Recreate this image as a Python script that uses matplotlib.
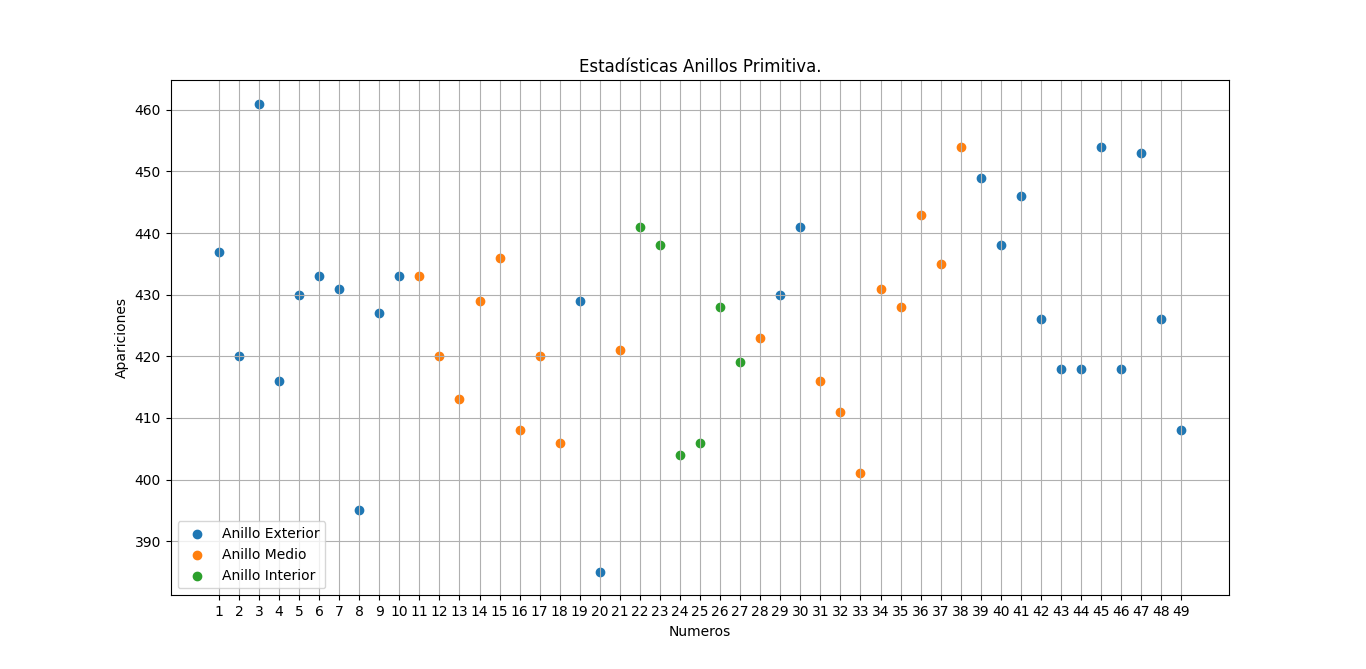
import matplotlib
matplotlib.use('Agg')
from matplotlib import pyplot as plt

# Numeros del 1 al 49 y sus apariciones
numeros = list(range(1, 50))
apariciones = [
    437, 420, 461, 416, 430, 433, 431, 395, 427, 433,
    433, 420, 413, 429, 436, 408, 420, 406, 429, 385,
    421, 441, 438, 404, 406, 428, 419, 423, 430, 441,
    416, 411, 401, 431, 428, 443, 435, 454, 449, 438,
    446, 426, 418, 418, 454, 418, 453, 426, 408,
]

# Anillos de la primitiva
anillo_exterior = [1, 2, 3, 4, 5, 6, 7, 8, 9, 10, 19, 20, 29, 30,
                   39, 40, 41, 42, 43, 44, 45, 46, 47, 48, 49]
anillo_medio = [11, 12, 13, 14, 15, 16, 17, 18, 21, 28,
                31, 32, 33, 34, 35, 36, 37, 38]
anillo_interior = [22, 23, 24, 25, 26, 27]

fig = plt.figure(figsize=(13.66, 6.69), dpi=100)
ax = fig.gca()

for grupo, etiqueta in ((anillo_exterior, 'Anillo Exterior'),
                        (anillo_medio, 'Anillo Medio'),
                        (anillo_interior, 'Anillo Interior')):
    ys = [apariciones[n - 1] for n in grupo]
    ax.scatter(grupo, ys, label=etiqueta)

ax.set_title('Estadísticas Anillos Primitiva.')
ax.set_xlabel('Numeros')
ax.set_ylabel('Apariciones')
ax.set_xticks(numeros)
ax.grid(True)
ax.legend(loc='lower left')

fig.savefig('out.png', dpi=100)
